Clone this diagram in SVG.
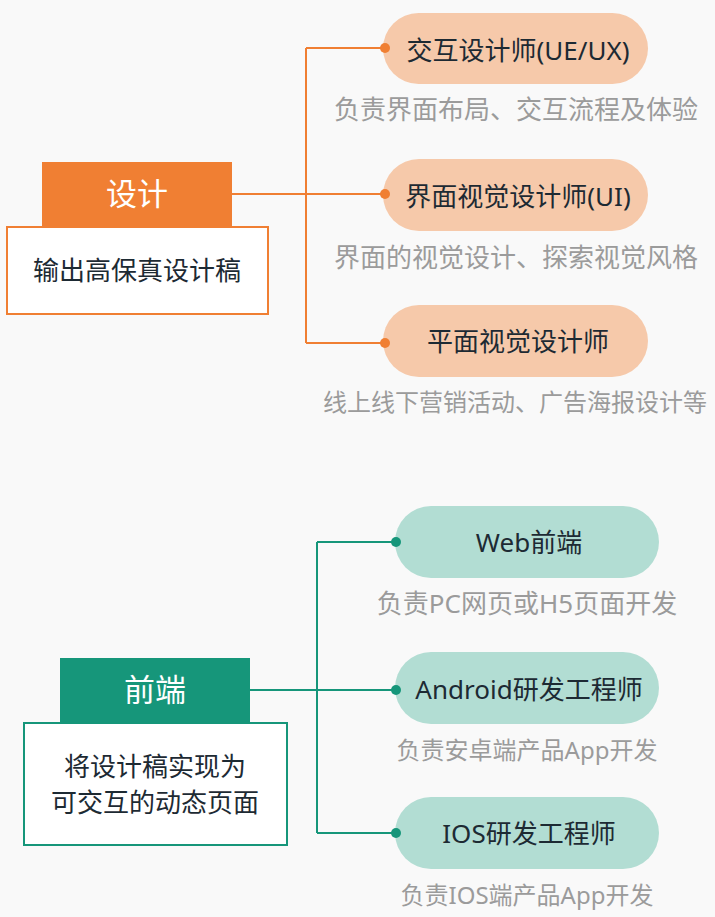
<svg xmlns="http://www.w3.org/2000/svg" width="715" height="917" viewBox="0 0 715 917">
<style>
text{font-family:"Noto Sans","Noto Sans CJK SC",sans-serif;}
.t{font-size:26px;fill:#1d2a33;text-anchor:middle;}
.d{font-size:26px;fill:#9b9b9b;text-anchor:middle;}
.s{font-size:24px;}
.h{font-size:31px;fill:#ffffff;text-anchor:middle;}
.po{fill:#F6C9AA;}
.pg{fill:#B2DDD3;}
.co{stroke:#F07F33;stroke-width:2;fill:none;}
.cg{stroke:#16967A;stroke-width:2;fill:none;}
</style>
<rect width="715" height="917" fill="#F9F9F9"/>
<g id="design">
<rect x="42" y="162" width="190" height="65" fill="#F07F33"/>
<text class="h" x="137" y="205">设计</text>
</g>
<g id="design-desc">
<rect x="7" y="227" width="261" height="87" fill="#ffffff" stroke="#F07F33" stroke-width="2"/>
<text class="t" x="137" y="280">输出高保真设计稿</text>
</g>
<g id="ux">
<rect class="po" x="383" y="13" width="265" height="71" rx="35.5"/>
<text class="t" x="518" y="60">交互设计师(UE/UX)</text>
<text class="d" x="516" y="119">负责界面布局、交互流程及体验</text>
</g>
<g id="ui">
<rect class="po" x="383" y="159" width="265" height="72" rx="36"/>
<text class="t" x="518" y="206">界面视觉设计师(UI)</text>
<text class="d" x="516" y="267">界面的视觉设计、探索视觉风格</text>
</g>
<g id="graphic">
<rect class="po" x="383" y="305" width="265" height="72" rx="36"/>
<text class="t" x="518" y="351">平面视觉设计师</text>
<text class="d s" x="515" y="411">线上线下营销活动、广告海报设计等</text>
</g>
<g id="frontend">
<rect x="60" y="658" width="190" height="64" fill="#16967A"/>
<text class="h" x="155" y="701">前端</text>
</g>
<g id="frontend-desc">
<rect x="24" y="723" width="263" height="122" fill="#ffffff" stroke="#16967A" stroke-width="2"/>
<text class="t" x="155" y="776">将设计稿实现为</text>
<text class="t" x="155" y="812">可交互的动态页面</text>
</g>
<g id="web">
<rect class="pg" x="395" y="506" width="264" height="72" rx="36"/>
<text class="t" x="529" y="552">Web前端</text>
<text class="d" x="527" y="613">负责PC网页或H5页面开发</text>
</g>
<g id="android">
<rect class="pg" x="395" y="652" width="264" height="72" rx="36"/>
<text class="t" x="529" y="699">Android研发工程师</text>
<text class="d s" x="527" y="759">负责安卓端产品App开发</text>
</g>
<g id="ios">
<rect class="pg" x="395" y="797" width="264" height="72" rx="36"/>
<text class="t" x="529" y="843">IOS研发工程师</text>
<text class="d s" x="527" y="904">负责IOS端产品App开发</text>
</g>
<g id="connectors">
<path class="co" d="M232 194H306M306 48V343M306 48H385M306 194H385M306 343H385"/>
<circle cx="385" cy="48" r="5" fill="#F07F33"/>
<circle cx="385" cy="194" r="5" fill="#F07F33"/>
<circle cx="385" cy="343" r="5" fill="#F07F33"/>
<path class="cg" d="M250 690H317M317 542V833M317 542H396M317 690H396M317 833H396"/>
<circle cx="396" cy="542" r="5" fill="#16967A"/>
<circle cx="396" cy="690" r="5" fill="#16967A"/>
<circle cx="396" cy="833" r="5" fill="#16967A"/>
</g>
</svg>
